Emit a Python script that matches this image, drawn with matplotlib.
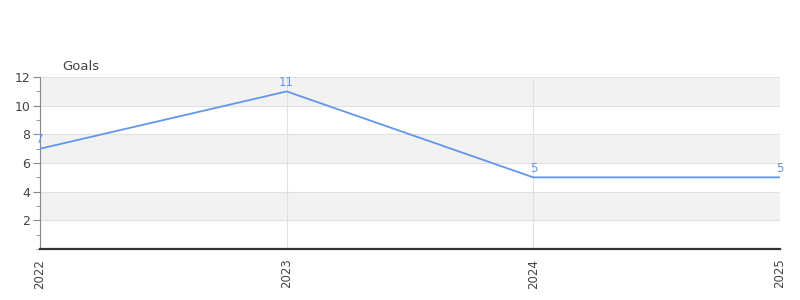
import matplotlib
matplotlib.use("Agg")
import matplotlib.pyplot as plt
from matplotlib.ticker import MultipleLocator

years = ["2022", "2023", "2024", "2025"]
goals = [7, 11, 5, 5]
title = "Goals"

line_color = "#6495ED"
fig = plt.figure(figsize=(8, 3), dpi=100)
ax = fig.add_axes([0.05, 0.17, 0.925, 0.573])

x = list(range(len(years)))
ax.set_xlim(0, len(years) - 1)
ax.set_ylim(0, 12)

# alternating bands
for lo in range(0, 12, 2):
    if (lo // 2) % 2 == 1:
        ax.axhspan(lo, lo + 2, color="#f2f2f2", zorder=0, lw=0)
for yv in range(2, 13, 2):
    ax.axhline(yv, color="#e0e0e0", lw=0.8, zorder=1)
for xv in x:
    ax.axvline(xv, color="#e0e0e0", lw=0.8, zorder=1)

ax.plot(x, goals, color=line_color, lw=1.3, zorder=3)
ax.axhline(0, color="#d01010", lw=0.8, zorder=4)

for xi, v in zip(x, goals):
    ax.annotate(str(v), (xi, v), xytext=(0, 2), textcoords="offset points",
                ha="center", va="bottom", color=line_color, fontsize=8.5, zorder=5)

ax.set_xticks(x)
ax.set_xticklabels(years, rotation=90, fontsize=8.5, color="#444444")
ax.yaxis.set_major_locator(MultipleLocator(2))
ax.yaxis.set_minor_locator(MultipleLocator(1))
ax.set_yticks([2, 4, 6, 8, 10, 12])
ax.tick_params(axis="y", which="major", length=5, color="#888888", labelsize=9, labelcolor="#444444", pad=2)
ax.tick_params(axis="y", which="minor", length=3, color="#888888")
ax.tick_params(axis="x", length=0, pad=7)

for s in ["top", "right"]:
    ax.spines[s].set_visible(False)
ax.spines["left"].set_color("#888888")
ax.spines["bottom"].set_color("#333333")
ax.spines["bottom"].set_linewidth(1.6)
ax.spines["bottom"].set_zorder(3.5)

fig.text(0.0775, 0.755, title, fontsize=9.5, color="#444444", ha="left", va="bottom")

fig.savefig("out.png", dpi=100)
